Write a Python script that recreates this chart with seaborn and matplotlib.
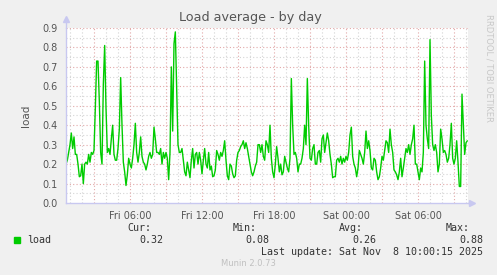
import numpy as np
import pandas as pd
import matplotlib
matplotlib.use("Agg")
import matplotlib.pyplot as plt
import matplotlib.dates as mdates
import seaborn as sns

# ---- data (5-ish minute load samples) ----
load_seg1 = [0.20, 0.22, 0.26, 0.30, 0.36, 0.28, 0.34, 0.25, 0.25, 0.20, 0.135, 0.14, 0.20, 0.10, 0.20,
             0.21, 0.20, 0.25, 0.21, 0.26, 0.25, 0.27, 0.49, 0.73, 0.73, 0.52, 0.26, 0.20, 0.61, 0.81,
             0.49, 0.26, 0.28, 0.25, 0.33, 0.40, 0.25, 0.22, 0.22, 0.28, 0.38, 0.645, 0.40, 0.21, 0.16,
             0.09, 0.145, 0.23, 0.20, 0.18, 0.23, 0.30, 0.41, 0.26, 0.21, 0.26, 0.34, 0.24, 0.21, 0.20,
             0.17, 0.20, 0.24, 0.26, 0.23, 0.25, 0.39, 0.33, 0.26, 0.26, 0.25, 0.28, 0.20, 0.26, 0.23, 0.26]
load_seg2 = [0.23, 0.12, 0.26, 0.70, 0.37, 0.82, 0.88, 0.60, 0.30, 0.26, 0.26, 0.28, 0.22, 0.16, 0.14,
             0.21, 0.17, 0.13, 0.22, 0.28, 0.18, 0.25, 0.26, 0.20, 0.26, 0.22, 0.15, 0.22, 0.28, 0.20,
             0.18, 0.26, 0.17, 0.19, 0.135, 0.14, 0.17, 0.27, 0.25, 0.22, 0.26, 0.24, 0.27, 0.32, 0.22,
             0.14, 0.12, 0.20, 0.19, 0.15, 0.13, 0.14, 0.22, 0.26, 0.27, 0.29, 0.30, 0.32, 0.28, 0.31,
             0.28, 0.24, 0.20, 0.16, 0.14, 0.16, 0.19, 0.21, 0.30, 0.30, 0.26, 0.30, 0.24, 0.22, 0.32]
load_seg3 = [0.30, 0.26, 0.40, 0.23, 0.16, 0.13, 0.20, 0.29, 0.23, 0.16, 0.20, 0.145, 0.16, 0.24, 0.21,
             0.18, 0.16, 0.23, 0.64, 0.40, 0.25, 0.26, 0.23, 0.16, 0.20, 0.20, 0.23, 0.28, 0.40, 0.30,
             0.64, 0.40, 0.23, 0.22, 0.28, 0.30, 0.20, 0.20, 0.26, 0.27, 0.21, 0.33, 0.35, 0.26, 0.31,
             0.36, 0.32, 0.25, 0.20, 0.13, 0.135, 0.135, 0.22, 0.23, 0.21, 0.24, 0.20, 0.23, 0.21, 0.24,
             0.22, 0.26, 0.35, 0.39, 0.24, 0.20, 0.18, 0.135, 0.18, 0.27, 0.25, 0.23, 0.20, 0.26, 0.37]
load_seg4 = [0.28, 0.32, 0.27, 0.18, 0.17, 0.23, 0.22, 0.16, 0.12, 0.135, 0.18, 0.24, 0.22, 0.27, 0.32,
             0.31, 0.26, 0.38, 0.30, 0.26, 0.17, 0.16, 0.145, 0.12, 0.16, 0.23, 0.135, 0.18, 0.23, 0.28,
             0.26, 0.30, 0.25, 0.30, 0.33, 0.40, 0.20, 0.20, 0.16, 0.12, 0.18, 0.16, 0.26, 0.73, 0.40,
             0.33, 0.28, 0.84, 0.45, 0.30, 0.27, 0.30, 0.26, 0.16, 0.20, 0.38, 0.33, 0.26, 0.27, 0.25,
             0.21, 0.23, 0.30, 0.41, 0.23, 0.20, 0.23, 0.32, 0.21, 0.085, 0.085, 0.56, 0.40, 0.25, 0.31, 0.32]
start_time = "2025-11-07 00:40:00"
sample_seconds = 400

y_ticks = [0.0, 0.1, 0.2, 0.3, 0.4, 0.5, 0.6, 0.7, 0.8, 0.9]
x_tick_times = ["2025-11-07 06:00", "2025-11-07 12:00", "2025-11-07 18:00",
                "2025-11-08 00:00", "2025-11-08 06:00"]
x_tick_labels = ["Fri 06:00", "Fri 12:00", "Fri 18:00", "Sat 00:00", "Sat 06:00"]
stat_names = ["Cur:", "Min:", "Avg:", "Max:"]
stat_values = ["0.32", "0.08", "0.26", "0.88"]

loads = load_seg1 + load_seg2 + load_seg3 + load_seg4
times = pd.date_range(start_time, periods=len(loads), freq=f"{sample_seconds}s")
df = pd.DataFrame({"time": times, "load": loads})

# ---- figure ----
sns.set_style("white")
plt.rcParams["font.family"] = ["DejaVu Sans"]
W, H = 497, 275
fig = plt.figure(figsize=(W / 100, H / 100), dpi=100, facecolor="#F0F0F0")
L, R, T, B = 66, 468, 28, 203
ax = fig.add_axes([L / W, 1 - B / H, (R - L) / W, (B - T) / H])
ax.set_facecolor("white")

sns.lineplot(data=df, x="time", y="load", ax=ax, color="#00CC00", linewidth=1.0)

ax.set_ylim(0, 0.9)
ax.set_xlim(pd.Timestamp("2025-11-07 00:40"), pd.Timestamp("2025-11-08 10:10"))

# grids
minor_col = "#D4D4D4"
major_col = "#E2A8A8"
for v in np.arange(0.05, 0.9, 0.1):
    ax.axhline(v, color=minor_col, lw=0.8, ls=(0, (1, 2)), zorder=0)
for v in y_ticks[1:]:
    ax.axhline(v, color=major_col, lw=0.8, ls=(0, (1, 2)), zorder=0)
hours = pd.date_range("2025-11-07 01:00", "2025-11-08 10:00", freq="1h")
for h in hours:
    col = major_col if h.hour % 3 == 0 else minor_col
    ax.axvline(h, color=col, lw=0.8, ls=(0, (1, 2)), zorder=0)

for s in ["top", "right"]:
    ax.spines[s].set_visible(False)
axis_col = "#C8C8F0"
for s in ["left", "bottom"]:
    ax.spines[s].set_color(axis_col)
    ax.spines[s].set_linewidth(1.0)
ax.plot([0], [1.05], marker="^", color=axis_col, markersize=5, transform=ax.transAxes, clip_on=False)
ax.plot([0, 0], [1.0, 1.05], color=axis_col, lw=1.0, transform=ax.transAxes, clip_on=False)
ax.plot([1.0, 1.01], [0, 0], color=axis_col, lw=1.0, transform=ax.transAxes, clip_on=False)
ax.plot([1.01], [0], marker=">", color=axis_col, markersize=5, transform=ax.transAxes, clip_on=False)

ax.set_yticks(y_ticks)
ax.set_yticklabels([f"{v:.1f}" for v in y_ticks])
ax.set_xticks([pd.Timestamp(t) for t in x_tick_times])
ax.set_xticklabels(x_tick_labels)
ax.tick_params(axis="both", labelsize=7, colors="#555555", length=2, width=0.8, pad=4)
ax.tick_params(axis="x", colors=major_col, labelcolor="#555555")
ax.tick_params(axis="y", colors=major_col, labelcolor="#555555")
ax.set_xlabel("")
ax.set_ylabel("load", fontsize=7.5, color="#555555", labelpad=8)

fig.text(250 / W, 1 - 18 / H, "Load average - by day", ha="center", va="center",
         fontsize=9.2, color="#555555")
fig.text(489 / W, 1 - 14 / H, "RRDTOOL / TOBI OETIKER", rotation=-90, ha="center", va="top",
         fontsize=6, color="#C8C8C8")

mono = "DejaVu Sans Mono"
fig.patches.append(plt.Rectangle((14 / W, 1 - 243 / H), 6 / W, 6 / H, transform=fig.transFigure,
                                 color="#00CC00"))
fig.text(27 / W, 1 - 240 / H, "load", family=mono, fontsize=7.2, color="#333333", va="center")
name_right = [151, 257, 363, 470]
val_right = [163, 269, 376, 483]
for n, v, nr, vr in zip(stat_names, stat_values, name_right, val_right):
    fig.text(nr / W, 1 - 228 / H, n, family=mono, fontsize=7.2, color="#333333", ha="right", va="center")
    fig.text(vr / W, 1 - 240 / H, v, family=mono, fontsize=7.2, color="#333333", ha="right", va="center")
fig.text(483 / W, 1 - 252 / H, "Last update: Sat Nov  8 10:00:15 2025", family=mono, fontsize=7.2,
         color="#333333", ha="right", va="center")
fig.text(248 / W, 1 - 264 / H, "Munin 2.0.73", fontsize=6, color="#C0C0C0", ha="center", va="center")

fig.savefig("out.png", dpi=100, facecolor=fig.get_facecolor())
